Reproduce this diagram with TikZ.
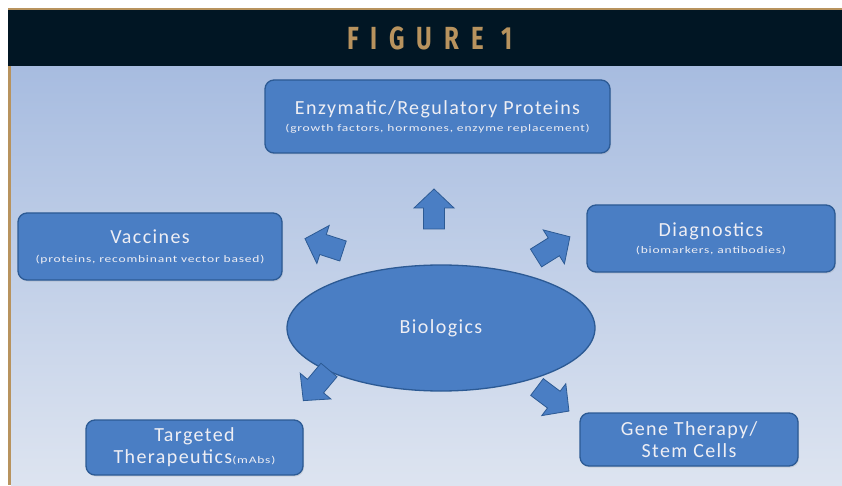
\documentclass[tikz,border=0pt]{standalone}
\usepackage{fontspec}
\setmainfont{Carlito}
\newfontfamily\labfont[LetterSpace=7]{Carlito}
\newfontfamily\subfont[FakeStretch=1.35,LetterSpace=8]{Carlito}
\newfontfamily\headfont[FakeStretch=0.75,LetterSpace=37]{Fira Sans}
\usetikzlibrary{shapes.geometric,shadows}

\definecolor{bandnavy}{HTML}{011624}
\definecolor{tanline}{HTML}{B8935E}
\definecolor{bgtop}{HTML}{A7BCE0}
\definecolor{bgbot}{HTML}{DDE4F0}
\definecolor{boxfill}{HTML}{4A7EC4}
\definecolor{boxedge}{HTML}{2C5A94}
\definecolor{labtext}{HTML}{EEEEF4}

\tikzset{
  box/.style={draw=boxedge, fill=boxfill, line width=1.3pt, rounded corners=9pt,
    align=center, text=labtext, inner sep=0pt,
    drop shadow={opacity=0.2, shadow xshift=1pt, shadow yshift=-1.5pt}},
  hub/.style={ellipse, draw=boxedge, fill=boxfill, line width=1.3pt,
    text=labtext, inner sep=0pt, minimum width=308pt, minimum height=126pt},
  arrowstyle/.style={draw=boxedge, fill=boxfill, line width=0.8pt, line join=miter},
  blockarrow/.pic={\draw[arrowstyle] (0,-10.5) -- (21,-10.5) -- (21,-20) -- (40,0)
    -- (21,20) -- (21,10.5) -- (0,10.5) -- cycle;},
  headtext/.style={text=tanline, font=\headfont\bfseries\fontsize{32}{34}\selectfont},
  mainlab/.style={font=\labfont\fontsize{20}{22}\selectfont},
}
\newcommand{\mainline}[1]{{\labfont\fontsize{20}{23}\selectfont #1}}
\newcommand{\sublab}[1]{{\subfont\fontsize{10}{12}\selectfont #1}}

\begin{document}
\begin{tikzpicture}[x=1pt,y=1pt]
\useasboundingbox (0,0) rectangle (842,485);
\fill[white] (0,0) rectangle (842,485);
% page background and header band
\shade[top color=bgtop, bottom color=bgbot] (11,0) rectangle (842,419);
\fill[tanline] (8,0) rectangle (11,419);
\fill[bandnavy] (8,419) rectangle (842,475);
\fill[tanline] (8,475) rectangle (842,476.5);
\node[headtext] (title) at (430,447) {FIGURE\hspace{18pt}1};

% central hub
\node[hub, mainlab] (bio) at (441,157) {Biologics};

% surrounding categories
\node[box, minimum width=345pt, minimum height=73pt] (enz) at (437.5,368.5)
  {\mainline{Enzymatic/Regulatory Proteins}\\[5pt]
   \sublab{(growth factors, hormones, enzyme replacement)}};
\node[box, minimum width=264pt, minimum height=67pt] (vac) at (150,238.5)
  {\mainline{Vaccines}\\[7pt]
   \sublab{(proteins, recombinant vector based)}};
\node[box, minimum width=248pt, minimum height=67pt] (diag) at (711,246.5)
  {\mainline{Diagnostics}\\[5pt]
   \sublab{(biomarkers, antibodies)}};
\node[box, minimum width=217pt, minimum height=55pt] (targ) at (194.5,37.5)
  {\mainline{Targeted}\\[4pt]
   \mainline{Therapeutics}\sublab{(mAbs)}};
\node[box, minimum width=218pt, minimum height=53pt] (gene) at (689,45.5)
  {\mainline{Gene Therapy/}\\[4pt]
   \mainline{Stem Cells}};

% block arrows radiating from the hub
\pic[rotate=90] at (434,256) {blockarrow};
\pic[rotate=162] at (343,234) {blockarrow};
\pic[rotate=32] at (536,227) {blockarrow};
\pic[rotate=230] at (329,115) {blockarrow};
\pic[rotate=-37] at (537,98) {blockarrow};
\end{tikzpicture}
\end{document}
